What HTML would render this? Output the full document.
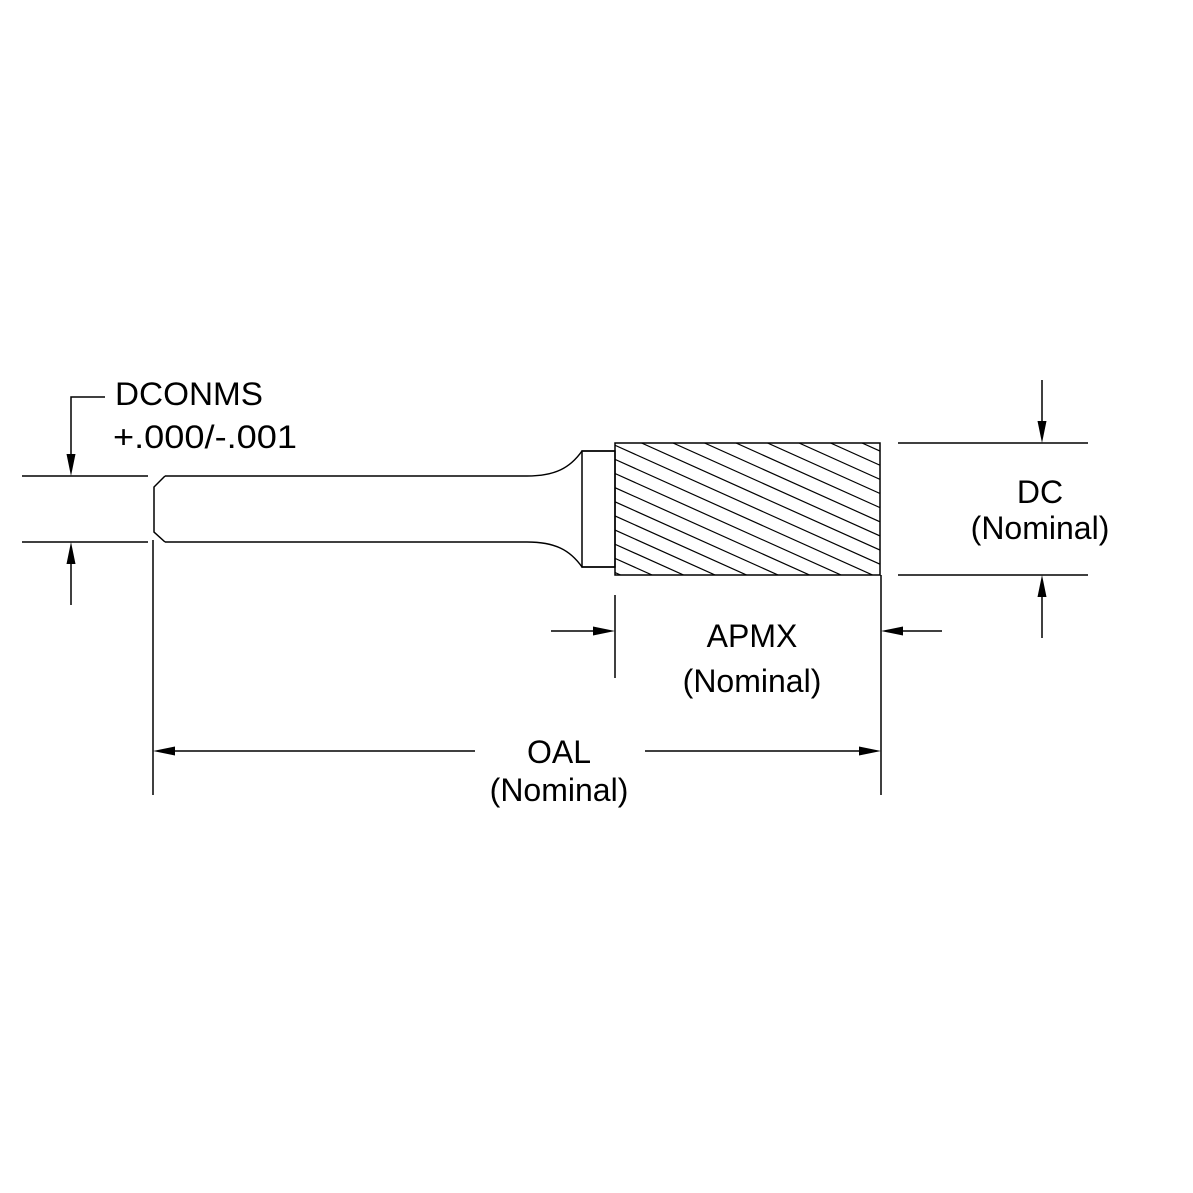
<!DOCTYPE html>
<html><head><meta charset="utf-8"><style>body{margin:0;background:#fff}svg{display:block}</style></head><body>
<svg width="1193" height="1193" viewBox="0 0 1193 1193" xmlns="http://www.w3.org/2000/svg">
<defs>
<clipPath id="c"><rect x="615" y="443" width="265" height="132"/></clipPath>
</defs>
<g stroke="#000" stroke-width="1.5" fill="none">
<path d="M165 476 H527 C555 476 570 468 582 451 H615 M165 542 H527 C555 542 570 550 582 567 H615"/>
<path d="M165 476 L154 487 V532 L165 542"/>
<rect x="582" y="451" width="33" height="116"/>
<rect x="615" y="443" width="265" height="132"/>
<g clip-path="url(#c)" stroke-width="1.2">
<path d="M295 443 l470 211 M326.5 443 l470 211 M358 443 l470 211 M389.5 443 l470 211 M421 443 l470 211 M452.5 443 l470 211 M484 443 l470 211 M515.5 443 l470 211 M547 443 l470 211 M578.5 443 l470 211 M610 443 l470 211 M641.5 443 l470 211 M673 443 l470 211 M704.5 443 l470 211 M736 443 l470 211 M767.5 443 l470 211 M799 443 l470 211 M830.5 443 l470 211 M862 443 l470 211"/>
</g>
<path d="M105 397 H71 V456 M22 476 H148 M22 542 H148 M71 562 V605"/>
<path d="M153 540 V795"/>
<path d="M898 443 H1088 M898 575 H1088 M1042 380 V421 M1042 597 V638"/>
<path d="M615 595 V678 M881 575 V795 M551 631 H593 M903 631 H942"/>
<path d="M175 751 H475 M645 751 H859"/>
</g>
<g fill="#000">
<path d="M71 476 l-4.5 -22 h9z"/>
<path d="M71 542 l-4.5 22 h9z"/>
<path d="M1042 443 l-4.5 -22 h9z"/>
<path d="M1042 575 l-4.5 22 h9z"/>
<path d="M615 631 l-22 -4.5 v9z"/>
<path d="M881 631 l22 -4.5 v9z"/>
<path d="M153 751 l22 -4.5 v9z"/>
<path d="M881 751 l-22 -4.5 v9z"/>
</g>
<g font-family="Liberation Sans, sans-serif" font-size="32" fill="#000">
<text x="115" y="405" textLength="148" lengthAdjust="spacingAndGlyphs">DCONMS</text>
<text x="113" y="448" textLength="184" lengthAdjust="spacingAndGlyphs">+.000/-.001</text>
<g text-anchor="middle">
<text x="1040" y="503">DC</text>
<text x="1040" y="539">(Nominal)</text>
<text x="752" y="647">APMX</text>
<text x="752" y="692">(Nominal)</text>
<text x="559" y="763">OAL</text>
<text x="559" y="801">(Nominal)</text>
</g>
</g>
</svg>
</body></html>
